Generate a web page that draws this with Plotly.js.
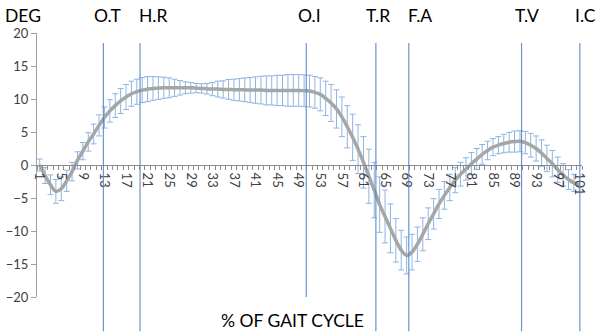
<!DOCTYPE html>
<html>
<head>
<meta charset="utf-8">
<script src="https://cdn.plot.ly/plotly-3.0.1.min.js"></script>
<style>
  html, body { margin: 0; padding: 0; background: #fff; }
  #chart { width: 597px; height: 333px; }
</style>
</head>
<body>
<div id="chart"></div>
<script>
// Percent of gait cycle (1..101)
const gaitPct = Array.from({length: 101}, (_, k) => k + 1);

// Mean joint angle (degrees) at each percent of the cycle
const meanAngle = [
  0.0, -1.6, -3.0, -4.0, -3.6, -2.4, -1.0, 0.7, 2.1, 3.5,
  4.7, 6.0, 7.2, 8.2, 9.0, 9.7, 10.3, 10.8, 11.1, 11.35,
  11.5, 11.6, 11.65, 11.7, 11.7, 11.7, 11.7, 11.7, 11.7, 11.65,
  11.6, 11.55, 11.5, 11.5, 11.45, 11.45, 11.4, 11.4, 11.4, 11.35,
  11.35, 11.35, 11.3, 11.3, 11.3, 11.3, 11.3, 11.3, 11.3, 11.25,
  11.2, 11.0, 10.7, 10.1, 9.4, 8.5, 7.3, 5.8, 4.2, 2.4,
  0.4, -1.7, -3.8, -6.0, -7.8, -9.6, -11.4, -12.9, -13.7, -13.2,
  -12.0, -10.5, -8.9, -7.4, -5.9, -4.6, -3.4, -2.3, -1.4, -0.6,
  0.2, 0.9, 1.6, 2.2, 2.7, 3.0, 3.25, 3.45, 3.55, 3.6,
  3.4, 3.0, 2.5, 1.8, 1.0, 0.2, -0.7, -1.5, -2.2, -2.7,
  -3.0
];

// Standard deviation at each percent of the cycle
const sdAngle = [
  0.9, 1.2, 1.5, 1.8, 1.8, 1.6, 1.4, 1.3, 1.3, 1.4,
  1.5, 1.6, 1.6, 1.7, 1.8, 1.9, 1.9, 1.9, 1.9, 1.9,
  1.9, 1.8, 1.7, 1.6, 1.5, 1.3, 1.1, 0.9, 0.8, 0.7,
  0.7, 0.8, 1.0, 1.2, 1.3, 1.5, 1.6, 1.7, 1.8, 1.9,
  2.0, 2.1, 2.2, 2.2, 2.3, 2.3, 2.4, 2.4, 2.4, 2.4,
  2.4, 2.4, 2.5, 2.6, 2.8, 2.9, 3.0, 3.2, 3.5, 3.7,
  3.9, 4.1, 4.2, 4.2, 4.0, 3.7, 3.3, 3.0, 2.8, 2.7,
  2.6, 2.5, 2.4, 2.3, 2.2, 2.1, 2.0, 1.9, 1.8, 1.7,
  1.7, 1.6, 1.5, 1.4, 1.3, 1.3, 1.4, 1.5, 1.6, 1.6,
  1.7, 1.8, 1.9, 2.0, 2.0, 2.0, 1.9, 1.7, 1.5, 1.3,
  1.2
];

// Gait events and where they fall in the cycle
const eventNames = ["O.T", "H.R", "O.I", "T.R", "F.A", "T.V", "I.C"];
const eventPct   = [12.8, 19.6, 50.4, 63.3, 69.4, 90.3, 101.1];

// Category labels shown every 4 percent
const tickVals = gaitPct.filter(v => (v - 1) % 4 === 0);
const tickText = tickVals.map(String);

const font = "Lato, 'Noto Sans', sans-serif";

// label offset (px) and line bottom (paper units) per event marker
const eventStyle = {
  "O.T": {dx: 4,  bottom: -0.13},
  "H.R": {dx: 13, bottom: -0.13},
  "O.I": {dx: 3,  bottom: 0.0},
  "T.R": {dx: 2,  bottom: -0.13},
  "F.A": {dx: 11, bottom: -0.13},
  "T.V": {dx: 5,  bottom: -0.13},
  "I.C": {dx: 6,  bottom: -0.13}
};

const shapes = eventNames.map((name, k) => ({
  type: "line", xref: "x", yref: "paper",
  x0: eventPct[k], x1: eventPct[k],
  y0: eventStyle[name].bottom, y1: 0.962,
  line: {color: "rgba(79,129,200,0.85)", width: 1.2},
  layer: "above"
}));

const labelFont = {family: font, size: 17.5, color: "#000"};

const annotations = eventNames.map((name, k) => ({
  x: eventPct[k], xref: "x", y: 1.068, yref: "paper",
  text: name, showarrow: false, xanchor: "center", yanchor: "middle",
  xshift: eventStyle[name].dx,
  font: labelFont
}));

annotations.push({
  x: -0.025, xref: "paper", y: 1.068, yref: "paper",
  text: "DEG", showarrow: false, xanchor: "center", yanchor: "middle",
  font: labelFont
});

annotations.push({
  x: 0.469, xref: "paper", y: -0.09, yref: "paper",
  text: "% OF GAIT CYCLE", showarrow: false, xanchor: "center", yanchor: "middle",
  font: labelFont
});

const trace = {
  x: gaitPct,
  y: meanAngle,
  type: "scatter",
  mode: "lines",
  line: {color: "#a6a6a6", width: 3.5, shape: "spline"},
  error_y: {
    type: "data", array: sdAngle, visible: true,
    color: "#8db4e2", thickness: 1, width: 3
  },
  hoverinfo: "skip"
};

const layout = {
  width: 597, height: 333,
  margin: {l: 37, r: 15, t: 33, b: 36},
  paper_bgcolor: "#fff", plot_bgcolor: "#fff",
  showlegend: false,
  font: {family: font, color: "#404040"},
  xaxis: {
    range: [0.5, 101.5],
    anchor: "free", position: 0.5,
    showgrid: false, zeroline: false,
    showline: true, linecolor: "#8c8c8c", linewidth: 1,
    tickmode: "array", tickvals: tickVals, ticktext: tickText,
    ticks: "", tickangle: 90, ticklabelstandoff: 4,
    tickfont: {family: font, size: 13, color: "#404040"},
    minor: {tick0: 0.5, dtick: 1, ticks: "outside", ticklen: 4, tickcolor: "#8c8c8c", showgrid: false}
  },
  yaxis: {
    range: [-20, 20],
    tickmode: "array", tickvals: [-20, -15, -10, -5, 0, 5, 10, 15, 20],
    showgrid: false, zeroline: false,
    showline: true, linecolor: "#a0a0a0", linewidth: 1,
    ticks: "outside", ticklen: 5, tickcolor: "#a0a0a0",
    tickfont: {family: font, size: 13, color: "#404040"}
  },
  shapes: shapes,
  annotations: annotations
};

Plotly.newPlot("chart", [trace], layout, {displayModeBar: false, staticPlot: true});
</script>
</body>
</html>
